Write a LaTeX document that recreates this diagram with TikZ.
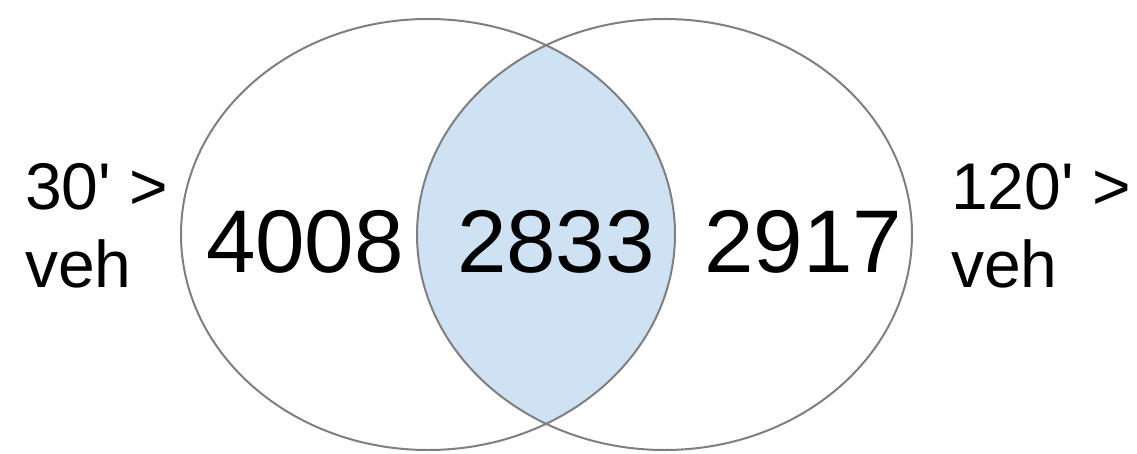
\documentclass[tikz,border=0pt]{standalone}
\usepackage{fontspec}
\usepackage{tikz}
\usetikzlibrary{positioning}
\newfontfamily\vennfont{Liberation Sans}
\definecolor{setline}{HTML}{7F7F7F}
\definecolor{setfill}{HTML}{CFE2F3}
\tikzset{
    setedge/.style={draw=setline, line width=2pt},
    bignum/.style={font=\vennfont\fontsize{89}{104}\selectfont, inner sep=0pt, anchor=base},
    sidelabel/.style={font=\vennfont\fontsize{66}{77}\selectfont, inner sep=0pt, align=left}
}

\begin{document}
\begin{tikzpicture}[x=1pt,y=1pt]
    \useasboundingbox (0,0) rectangle (1137,453);
    % shared part
    \begin{scope}
        \clip (428,218.5) ellipse [x radius=247, y radius=215.5];
        \fill[setfill] (664.5,218.5) ellipse [x radius=247.5, y radius=215.5];
    \end{scope}
    \draw[setedge] (428,218.5) ellipse [x radius=247, y radius=215.5];
    \draw[setedge] (664.5,218.5) ellipse [x radius=247.5, y radius=215.5];
    % counts
    \node[bignum] (onlyshort) at (305,181) {4008};
    \node[bignum] (both) at (556,181) {2833};
    \node[bignum] (onlylong) at (803.5,181) {2917};
    % set names (base = last line)
    \node[sidelabel, anchor=base west] (shortlbl) at (25,166) {30' >\\veh};
    \node[sidelabel, anchor=base west] (longlbl) at (951,166) {120' >\\veh};
\end{tikzpicture}
\end{document}
